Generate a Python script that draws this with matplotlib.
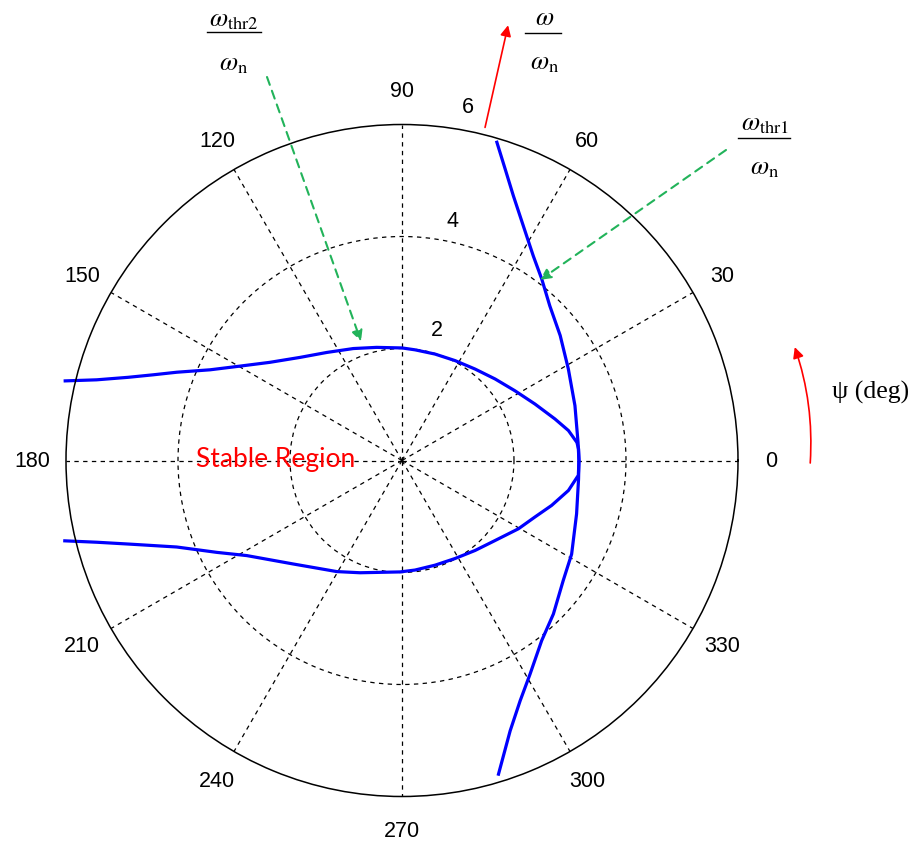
import numpy as np
import matplotlib.pyplot as plt
from matplotlib.lines import Line2D

plt.rcParams['mathtext.fontset'] = 'stix'

# ω_thr2 境界 (閉じた曲線): 角度 ψ [deg] と ω/ωn
thr2_deg = [166.7, 165.2, 163.1, 161.0, 158.6, 154.7, 149.8, 143.4, 134.7,
            124.8, 113.5, 102.6, 90.0, 83.3, 72.8, 62.0, 51.4, 41.2, 31.7,
            23.0, 15.2, 10.2, 5.9, 3.7, 0.0,
            -4.8, -10.2, -16.7, -23.0, -30.4, -40.8, -50.9, -61.6, -72.5,
            -83.2, -91.0, -110.5, -120.4, -136.4, -148.5, -153.6, -159.0,
            -162.9, -165.0, -166.6]
thr2_r = [6.18, 5.64, 5.11, 4.70, 4.32, 3.79, 3.35, 2.94, 2.59,
          2.35, 2.18, 2.07, 2.01, 1.99, 1.99, 2.02, 2.09, 2.21, 2.37,
          2.58, 2.83, 3.02, 3.14, 3.16, 3.16,
          3.16, 3.02, 2.79, 2.58, 2.41, 2.19, 2.07, 1.99, 1.96,
          1.97, 1.99, 2.14, 2.30, 2.68, 3.25, 3.69, 4.31,
          5.08, 5.64, 6.19]

# ω_thr1 境界 (右側の曲線)
thr1_deg = [73.4, 70.5, 67.2, 62.7, 57.3, 52.4, 46.3, 38.3, 28.8, 17.6, 5.9,
            0.0, -6.0, -17.0, -28.9, -36.7, -45.4, -52.2, -59.1, -63.8,
            -68.2, -72.9]
thr1_r = [5.93, 5.52, 5.13, 4.72, 4.34, 4.09, 3.82, 3.60, 3.39, 3.24, 3.16,
          3.16, 3.17, 3.26, 3.46, 3.59, 3.85, 4.07, 4.45, 4.78,
          5.20, 5.86]

angle_ticks = list(range(0, 360, 30))
ring_ticks = [2, 4, 6]
ring_label_pos = [(75.0, 2.43), (78.0, 4.38), (79.5, 6.43)]

W, H = 915, 845
fig = plt.figure(figsize=(W / 100, H / 100), dpi=100)
ax = fig.add_axes([66 / W, 47.5 / H, 672 / W, 672 / H], projection='polar')
ax.set_ylim(0, 6)

# グリッド (破線) と外周
ax.set_rticks(ring_ticks[:-1])
ax.set_yticklabels([])
ax.set_thetagrids(angle_ticks, labels=[''] * len(angle_ticks))
ax.grid(True, color='black', linestyle=(0, (3.5, 3.5)), linewidth=0.9)
ax.spines['polar'].set_linewidth(1.1)
ax.tick_params(length=0)

sans = ['Liberation Sans', 'DejaVu Sans']
serif = ['Liberation Serif', 'DejaVu Serif']
for a in angle_ticks:
    ax.text(np.deg2rad(a), 6.6, str(a), ha='center', va='center',
            fontsize=15.5, family=sans, clip_on=False)

for r, (a, rr) in zip(ring_ticks, ring_label_pos):
    ax.text(np.deg2rad(a), rr, str(r), ha='center', va='center',
            fontsize=15.5, family=sans, clip_on=False)

# 安定限界曲線
ax.plot(np.deg2rad(thr2_deg), thr2_r, color='#0000ff', lw=2.3, clip_on=False)
ax.plot(np.deg2rad(thr1_deg), thr1_r, color='#0000ff', lw=2.3, clip_on=False)

ax.text(np.deg2rad(179), 2.25, 'Stable Region', color='#ff0000',
        ha='center', va='center', fontsize=19, family=['Lato', 'DejaVu Sans'])

# 矢印
green = '#22b35a'
ax.annotate('', xy=(np.deg2rad(109), 2.25), xytext=(267, H - 78),
            textcoords='figure pixels', annotation_clip=False,
            arrowprops=dict(arrowstyle='-|>', color=green, lw=1.5,
                            linestyle=(0, (4, 3)), mutation_scale=16,
                            shrinkA=0, shrinkB=0))
ax.annotate('', xy=(np.deg2rad(52.6), 4.06), xytext=(726, H - 151),
            textcoords='figure pixels', annotation_clip=False,
            arrowprops=dict(arrowstyle='-|>', color=green, lw=1.5,
                            linestyle=(0, (4, 3)), mutation_scale=16,
                            shrinkA=0, shrinkB=0))
ax.annotate('', xy=(np.deg2rad(76.3), 8.0), xytext=(np.deg2rad(76.0), 6.13),
            annotation_clip=False,
            arrowprops=dict(arrowstyle='-|>', color='red', lw=1.2,
                            mutation_scale=16, shrinkA=0, shrinkB=0))
ax.annotate('', xy=(np.deg2rad(16.1), 7.30), xytext=(np.deg2rad(-0.35), 7.29),
            annotation_clip=False,
            arrowprops=dict(arrowstyle='-|>', color='red', lw=1.2,
                            mutation_scale=16, shrinkA=0, shrinkB=0,
                            connectionstyle='arc3,rad=0.1'))

fig.text(871 / W, 1 - 392 / H, 'ψ (deg)', ha='center', va='center',
         fontsize=18.5, family=serif)


# 分数ラベル
def frac(num, den, xc, y_num, y_line, y_den, x0, x1):
    fig.text(xc / W, 1 - y_num / H, num, ha='center', va='center', fontsize=19)
    fig.text(xc / W, 1 - y_den / H, den, ha='center', va='center', fontsize=19)
    fig.add_artist(Line2D([x0 / W, x1 / W], [1 - y_line / H, 1 - y_line / H],
                          transform=fig.transFigure, color='black', lw=1.0))


frac(r'$\omega_{\mathrm{thr2}}$', r'$\omega_{\mathrm{n}}$', 234, 19, 33, 63, 207, 261)
frac(r'$\omega$', r'$\omega_{\mathrm{n}}$', 545, 18, 34, 62, 525, 561)
frac(r'$\omega_{\mathrm{thr1}}$', r'$\omega_{\mathrm{n}}$', 765, 123, 139, 167, 738, 790)

fig.savefig('out.png', dpi=100)
